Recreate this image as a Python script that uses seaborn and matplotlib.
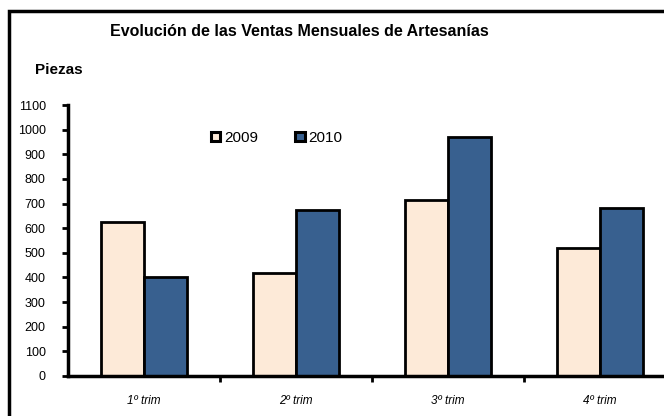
import matplotlib
matplotlib.use("Agg")
import pandas as pd
import seaborn as sns
from matplotlib import pyplot as plt
from matplotlib.patches import Rectangle

# data
trimestres = ["1º trim", "2º trim", "3º trim", "4º trim"]
ventas_2009 = [625, 420, 715, 520]
ventas_2010 = [400, 675, 970, 680]
years = ["2009", "2010"]
colors = ["#FDEAD8", "#38608F"]

df = pd.DataFrame({
    "trim": trimestres * 2,
    "piezas": ventas_2009 + ventas_2010,
    "year": [years[0]] * 4 + [years[1]] * 4,
})

sns.set_style("white")
plt.rcParams["font.family"] = ["Liberation Sans", "DejaVu Sans"]
plt.rcParams["text.color"] = "black"
plt.rcParams["xtick.color"] = "black"
plt.rcParams["ytick.color"] = "black"

fig = plt.figure(figsize=(6.64, 4.16), dpi=100)
ax = fig.add_axes([68 / 664, 1 - 376 / 416, 608 / 664, 271 / 416])

sns.barplot(
    ax=ax, data=df, x="trim", y="piezas", hue="year",
    palette=colors, width=0.566, edgecolor="black", linewidth=2,
    saturation=1,
)

ax.set_ylim(0, 1100)
ax.set_yticks(range(0, 1101, 100))
ax.set_xlim(-0.5, 3.5)
ax.set_xlabel("")
ax.set_ylabel("")

for s in ["top", "right"]:
    ax.spines[s].set_visible(False)
for s in ["left", "bottom"]:
    ax.spines[s].set_linewidth(2.5)
    ax.spines[s].set_color("black")

ax.tick_params(axis="y", direction="out", length=4, width=2, labelsize=9, pad=12, left=True)
ax.tick_params(axis="x", which="major", length=0, labelsize=8.5, pad=14)
ax.set_xticks([0.5, 1.5, 2.5], minor=True)
ax.tick_params(axis="x", which="minor", direction="out", length=4, width=2, bottom=True)
for lbl in ax.get_xticklabels():
    lbl.set_style("italic")

leg = ax.legend(
    loc="center left", bbox_to_anchor=(211 / 664, 1 - 138 / 416),
    bbox_transform=fig.transFigure, ncol=2, frameon=False,
    borderpad=0, borderaxespad=0,
    handlelength=0.6, handleheight=0.6, handletextpad=0.25,
    columnspacing=2.45, fontsize=11,
)
for h in leg.legend_handles:
    h.set_linewidth(2.2)

fig.text(110 / 664, 1 - 32 / 416, "Evolución de las Ventas Mensuales de Artesanías",
         fontsize=11.5, fontweight="bold", va="center", ha="left")
fig.text(35 / 664, 1 - 70 / 416, "Piezas",
         fontsize=11, fontweight="bold", va="center", ha="left")

# outer chart frame
fig.patches.append(Rectangle(
    (9 / 664, -0.2), 1.2, 1 - 11 / 416 + 0.2, transform=fig.transFigure,
    fill=False, edgecolor="black", linewidth=2.5,
))

fig.savefig("out.png", dpi=100)
